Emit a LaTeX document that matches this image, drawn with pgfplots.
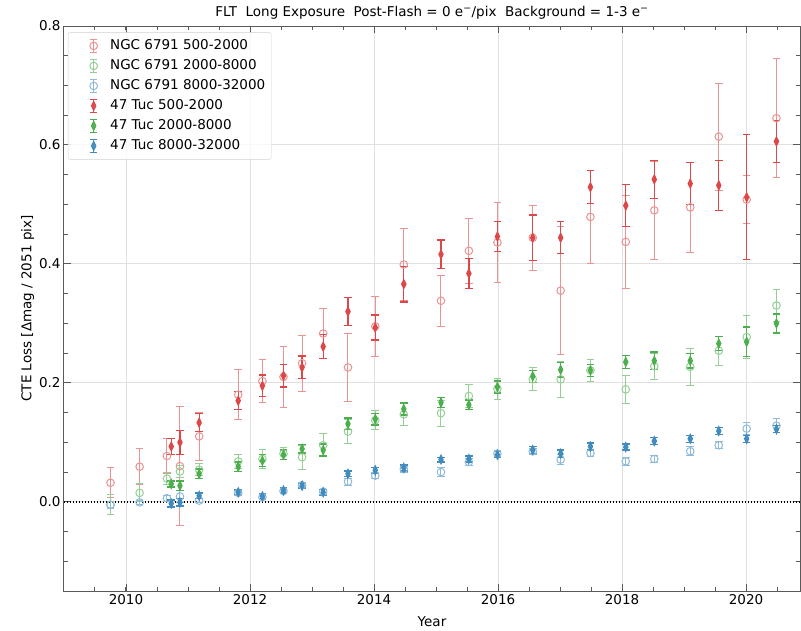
\documentclass[border=0pt]{standalone}
\usepackage{pgfplots}
\pgfplotsset{compat=1.18}
\usepackage{pgfplotstable}
\usepackage{fontspec}
\setmainfont{DejaVu Sans}
\definecolor{tred}{HTML}{D62728}
\definecolor{tgreen}{HTML}{2CA02C}
\definecolor{tblue}{HTML}{1F77B4}
\colorlet{nred}{tred!50!white}
\colorlet{ngreen}{tgreen!50!white}
\colorlet{nblue}{tblue!50!white}
\colorlet{kred}{tred!85!white}
\colorlet{kgreen}{tgreen!85!white}
\colorlet{kblue}{tblue!85!white}

\pgfplotstableread{
x y e
2009.75 0.032 0.025
2010.22 0.059 0.030
2010.66 0.077 0.030
2010.87 0.060 0.100
2011.18 0.110 0.040
2011.81 0.180 0.042
2012.20 0.203 0.036
2012.54 0.210 0.051
2012.84 0.233 0.047
2013.18 0.283 0.042
2013.58 0.226 0.057
2014.02 0.295 0.051
2014.48 0.399 0.060
2015.08 0.338 0.043
2015.53 0.422 0.055
2015.99 0.436 0.068
2016.56 0.444 0.055
2017.01 0.355 0.108
2017.49 0.479 0.078
2018.06 0.437 0.078
2018.52 0.490 0.083
2019.10 0.495 0.076
2019.56 0.614 0.090
2020.01 0.508 0.040
2020.49 0.645 0.100
}\ngcred
\pgfplotstableread{
x y e
2009.75 -0.005 0.017
2010.22 0.015 0.015
2010.66 0.039 0.010
2010.87 0.051 0.010
2011.18 0.054 0.010
2011.81 0.068 0.012
2012.20 0.072 0.016
2012.54 0.081 0.010
2012.84 0.075 0.020
2013.18 0.095 0.019
2013.58 0.118 0.020
2014.02 0.137 0.016
2014.48 0.147 0.019
2015.08 0.149 0.022
2015.53 0.178 0.019
2015.99 0.190 0.018
2016.56 0.206 0.019
2017.01 0.206 0.030
2017.49 0.221 0.019
2018.06 0.189 0.023
2018.52 0.228 0.022
2019.10 0.227 0.031
2019.56 0.254 0.024
2020.01 0.277 0.036
2020.49 0.330 0.027
}\ngcgreen
\pgfplotstableread{
x y e
2009.75 -0.005 0.006
2010.22 -0.001 0.004
2010.66 0.006 0.005
2010.87 0.009 0.010
2011.18 0.002 0.004
2011.81 0.015 0.004
2012.20 0.008 0.004
2012.54 0.018 0.004
2012.84 0.028 0.004
2013.18 0.017 0.004
2013.58 0.034 0.006
2014.02 0.044 0.005
2014.48 0.055 0.005
2015.08 0.050 0.008
2015.53 0.067 0.006
2015.99 0.081 0.005
2016.56 0.085 0.005
2017.01 0.071 0.008
2017.49 0.082 0.006
2018.06 0.068 0.007
2018.52 0.072 0.006
2019.10 0.085 0.008
2019.56 0.095 0.006
2020.01 0.123 0.010
2020.49 0.128 0.012
}\ngcblue
\pgfplotstableread{
x y e
2010.73 0.093 0.013
2010.87 0.100 0.020
2011.18 0.133 0.015
2011.81 0.170 0.015
2012.20 0.195 0.018
2012.54 0.212 0.019
2012.84 0.226 0.019
2013.18 0.261 0.020
2013.58 0.320 0.024
2014.02 0.293 0.021
2014.48 0.366 0.030
2015.08 0.416 0.024
2015.53 0.384 0.025
2015.99 0.446 0.025
2016.56 0.444 0.038
2017.01 0.444 0.027
2017.49 0.529 0.028
2018.06 0.498 0.035
2018.52 0.542 0.032
2019.10 0.535 0.035
2019.56 0.532 0.042
2020.01 0.512 0.105
2020.49 0.606 0.035
}\tucred
\pgfplotstableread{
x y e
2010.73 0.030 0.005
2010.87 0.027 0.008
2011.18 0.047 0.008
2011.81 0.059 0.008
2012.20 0.069 0.010
2012.54 0.079 0.008
2012.84 0.089 0.007
2013.18 0.087 0.010
2013.58 0.131 0.010
2014.02 0.139 0.010
2014.48 0.156 0.010
2015.08 0.167 0.008
2015.53 0.163 0.008
2015.99 0.193 0.010
2016.56 0.211 0.010
2017.01 0.222 0.012
2017.49 0.221 0.010
2018.06 0.235 0.011
2018.52 0.237 0.015
2019.10 0.237 0.012
2019.56 0.266 0.012
2020.01 0.269 0.025
2020.49 0.300 0.016
}\tucgreen
\pgfplotstableread{
x y e
2010.73 -0.003 0.006
2010.87 -0.001 0.006
2011.18 0.010 0.005
2011.81 0.016 0.004
2012.20 0.009 0.004
2012.54 0.019 0.004
2012.84 0.027 0.004
2013.18 0.016 0.005
2013.58 0.047 0.005
2014.02 0.053 0.005
2014.48 0.057 0.005
2015.08 0.071 0.004
2015.53 0.072 0.005
2015.99 0.079 0.005
2016.56 0.087 0.006
2017.01 0.081 0.006
2017.49 0.093 0.006
2018.06 0.092 0.005
2018.52 0.102 0.006
2019.10 0.106 0.006
2019.56 0.119 0.006
2020.01 0.106 0.006
2020.49 0.122 0.006
}\tucblue

\pgfplotsset{
  ebleg/.style={legend image code/.code={
    \path[draw=none] (-22bp,0bp) -- (14bp,0bp);
    \draw[##1, line width=1bp] (0bp,-6.5bp) -- (0bp,6.5bp)
       (-3.5bp,-6.5bp) -- (3.5bp,-6.5bp) (-3.5bp,6.5bp) -- (3.5bp,6.5bp);
    \draw[##1, only marks] plot coordinates {(0bp,0bp)};
  }},
  ngc/.style={only marks, mark=o, color=#1, mark size=3.8bp, line width=1bp, ebleg,
    error bars/.cd, y dir=both, y explicit, error mark=|,
    error bar style={line width=1bp},
    error mark options={mark size=3.8bp, line width=1bp}},
  tuc/.style={only marks, mark=diamond*, color=#1, mark size=4.2bp,
    mark options={xscale=0.65}, line width=1.3bp, ebleg,
    error bars/.cd, y dir=both, y explicit, error mark=|,
    error bar style={line width=1.3bp},
    error mark options={mark size=3.8bp, line width=1.3bp}},
}

\begin{document}
\begin{tikzpicture}[font=\fontsize{13.5bp}{16bp}\selectfont]
\begin{axis}[
  at={(0,0)}, anchor=south west,
  scale only axis, width=736bp, height=565bp,
  xmin=2009, xmax=2020.87, ymin=-0.15, ymax=0.8,
  xtick={2010,2012,2014,2016,2018,2020},
  minor xtick={2009,2009.5,...,2020.6},
  ytick={0,0.2,0.4,0.6,0.8},
  minor ytick={-0.15,-0.1,-0.05,0.05,0.1,0.15,0.25,0.3,0.35,0.45,0.5,0.55,0.65,0.7,0.75},
  xtick pos=both, ytick pos=both, tick align=inside,
  major tick length=7bp, minor tick length=4bp,
  every tick/.style={black!65, line width=1bp},
  axis line style={black!65, line width=1bp},
  grid=major, major grid style={black!12, line width=1bp},
  minor grid style={draw=none},
  /pgf/number format/assume math mode=true,
  xticklabel style={/pgf/number format/1000 sep={}},
  yticklabel style={/pgf/number format/fixed, /pgf/number format/fixed zerofill, /pgf/number format/precision=1},
  title={FLT\ \ Long Exposure\ \ Post-Flash = 0 e\textsuperscript{−}/pix\ \ Background = 1-3 e\textsuperscript{−}},
  title style={yshift=-3bp},
  xlabel={Year}, ylabel={CTE Loss [Δmag / 2051 pix]},
  xlabel style={yshift=-5bp}, ylabel style={yshift=-2bp},
  legend cell align=left,
  legend style={at={(0.0054,0.989)}, anchor=north west, draw=black!18, rounded corners=2bp,
    fill=white, fill opacity=0.8, text opacity=1, inner sep=3.5bp,
    nodes={inner sep=2.5bp, text height=11.3bp, text depth=3.7bp},
    /tikz/every even column/.append style={column sep=9bp}},
]
\addplot[black, line width=1.5bp, dash pattern=on 1.5bp off 1.5bp, forget plot] coordinates {(2009,0) (2020.87,0)};
\addplot[ngc=nred] table[x=x, y=y, y error=e] {\ngcred};
\addlegendentry{NGC 6791 500-2000}
\addplot[ngc=ngreen] table[x=x, y=y, y error=e] {\ngcgreen};
\addlegendentry{NGC 6791 2000-8000}
\addplot[ngc=nblue] table[x=x, y=y, y error=e] {\ngcblue};
\addlegendentry{NGC 6791 8000-32000}
\addplot[tuc=kred] table[x=x, y=y, y error=e] {\tucred};
\addlegendentry{47 Tuc 500-2000}
\addplot[tuc=kgreen] table[x=x, y=y, y error=e] {\tucgreen};
\addlegendentry{47 Tuc 2000-8000}
\addplot[tuc=kblue] table[x=x, y=y, y error=e] {\tucblue};
\addlegendentry{47 Tuc 8000-32000}
\end{axis}
\pgfresetboundingbox
\useasboundingbox (-64bp,-40bp) rectangle (737bp,591bp);
\end{tikzpicture}
\end{document}
